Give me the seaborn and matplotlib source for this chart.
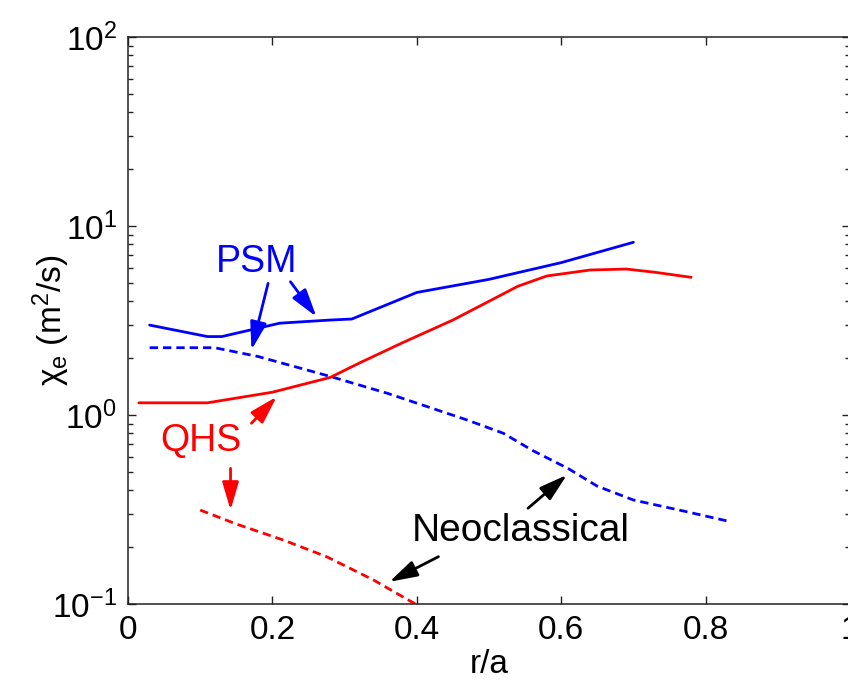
import numpy as np
import pandas as pd
import matplotlib
matplotlib.use("Agg")
import matplotlib.pyplot as plt
import seaborn as sns

# ---- data ----
psm_r = [0.03, 0.11, 0.13, 0.17, 0.21, 0.28, 0.31, 0.40, 0.50, 0.60, 0.70]
psm_chi = [2.99, 2.60, 2.60, 2.82, 3.06, 3.18, 3.22, 4.45, 5.22, 6.40, 8.20]

psm_neo_r = [0.03, 0.12, 0.18, 0.28, 0.36, 0.47, 0.52, 0.56, 0.61, 0.65, 0.70, 0.77, 0.83]
psm_neo_chi = [2.27, 2.27, 2.04, 1.60, 1.30, 0.94, 0.80, 0.65, 0.52, 0.42, 0.355, 0.31, 0.275]

qhs_r = [0.015, 0.11, 0.20, 0.28, 0.32, 0.38, 0.45, 0.54, 0.58, 0.64, 0.69, 0.73, 0.78]
qhs_chi = [1.16, 1.16, 1.32, 1.58, 1.88, 2.41, 3.18, 4.80, 5.44, 5.85, 5.92, 5.69, 5.35]

qhs_neo_r = [0.10, 0.15, 0.215, 0.275, 0.34, 0.40]
qhs_neo_chi = [0.314, 0.265, 0.218, 0.178, 0.134, 0.099]

x_ticks = [0, 0.2, 0.4, 0.6, 0.8, 1]
x_ticklabels = ["0", "0.2", "0.4", "0.6", "0.8", "1"]

sns.set_theme(style="ticks")
plt.rcParams["font.family"] = ["Liberation Sans", "DejaVu Sans"]
plt.rcParams["mathtext.fontset"] = "custom"
plt.rcParams["mathtext.rm"] = "Liberation Sans"
plt.rcParams["mathtext.it"] = "Liberation Sans:italic"
plt.rcParams["mathtext.bf"] = "Liberation Sans:bold"
plt.rcParams["mathtext.default"] = "regular"
plt.rcParams["axes.unicode_minus"] = False
for k in ["text.color", "axes.labelcolor", "xtick.color", "ytick.color"]:
    plt.rcParams[k] = "black"

fig = plt.figure(figsize=(8.48, 6.81), dpi=100)
ax = fig.add_axes([128 / 848, 1 - 604 / 681, (850 - 128) / 848, (604 - 37) / 681])

lw = 2.0
dash = (3.0, 1.8)
sns.lineplot(x=psm_r, y=psm_chi, ax=ax, color="#0000ff", lw=lw, sort=False)
sns.lineplot(x=psm_neo_r, y=psm_neo_chi, ax=ax, color="#0000ff", lw=lw, sort=False).lines[-1].set_dashes(dash)
sns.lineplot(x=qhs_r, y=qhs_chi, ax=ax, color="#ff0000", lw=lw, sort=False)
sns.lineplot(x=qhs_neo_r, y=qhs_neo_chi, ax=ax, color="#ff0000", lw=lw, sort=False).lines[-1].set_dashes(dash)

ax.set_yscale("log")
ax.set_xlim(0, 1)
ax.set_ylim(0.1, 100)
ax.set_xticks(x_ticks)
ax.set_xticklabels(x_ticklabels)

for s in ax.spines.values():
    s.set_linewidth(1.1)
    s.set_color("#222222")
    s.set_visible(True)

ax.tick_params(which="major", direction="in", length=5.5, width=1.0, top=True, right=True,
               labelsize=24, pad=8, color="#222222", labelcolor="black")
ax.tick_params(which="minor", direction="in", length=3.6, width=1.0, top=True, right=True,
               color="#222222")
ax.tick_params(axis="x", which="minor", bottom=False, top=False)

ax.set_xlabel("r/a", fontsize=24, labelpad=2)
ax.set_ylabel(r"$\chi_{e}$ (m$^{2}$/s)", fontsize=24)
ax.yaxis.set_label_coords(-0.077, 0.5)

fs_ann = 27
ax.text(0.178, 6.47, "PSM", color="#0000ff", fontsize=fs_ann, ha="center", va="center")
ax.text(0.1015, 0.73, "QHS", color="#ff0000", fontsize=fs_ann, ha="center", va="center")
ax.text(0.544, 0.243, "Neoclassical", color="black", fontsize=28, ha="center", va="center")

astyle = "-|>,head_length=0.85,head_width=0.25"
def arrow(tail, tip, color):
    ax.annotate("", xy=tip, xytext=tail,
                arrowprops=dict(arrowstyle=astyle, color=color, lw=2.0,
                                shrinkA=0, shrinkB=0, mutation_scale=20))

arrow((0.194, 4.97), (0.171, 2.21), "#0000ff")
arrow((0.225, 5.07), (0.261, 3.31), "#0000ff")
arrow((0.171, 0.904), (0.206, 1.25), "#ff0000")
arrow((0.142, 0.522), (0.142, 0.314), "#ff0000")
arrow((0.43, 0.178), (0.362, 0.131), "black")
arrow((0.554, 0.321), (0.608, 0.482), "black")

fig.savefig("out.png", dpi=100)
